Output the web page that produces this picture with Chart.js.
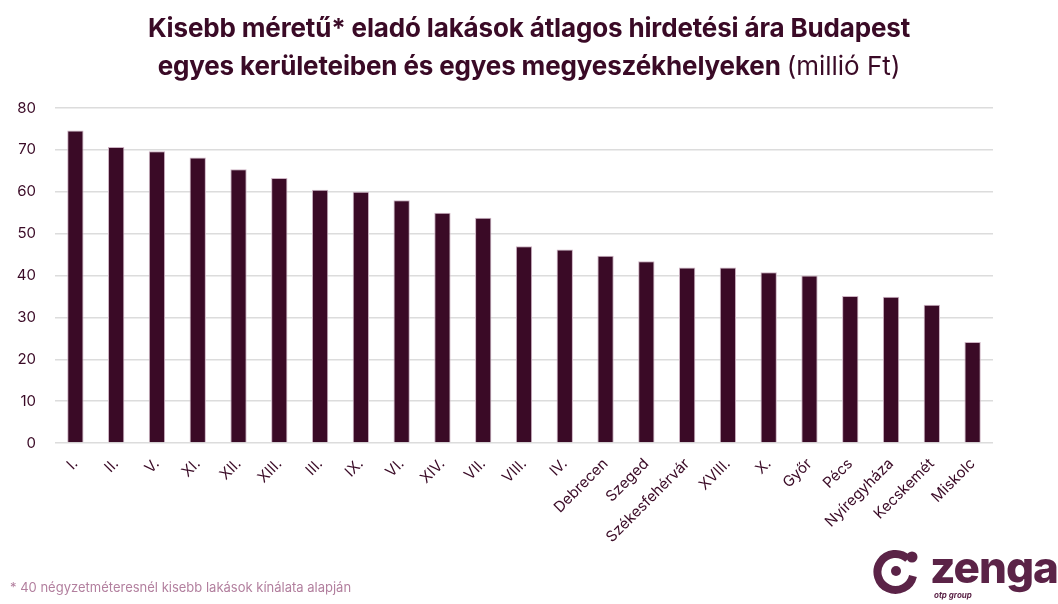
<!DOCTYPE html>
<html lang="hu">
<head>
<meta charset="utf-8">
<script src="https://cdn.jsdelivr.net/npm/chart.js@4"></script>
<style>
  html, body { margin: 0; padding: 0; background: #fff; }
  body { width: 1058px; height: 604px; position: relative; overflow: hidden; font-family: Inter, "Noto Sans", sans-serif; }
  #title { position: absolute; top: 9px; left: 0; width: 1058px; text-align: center; color: #3a0a26; font-size: 26px; line-height: 38px; font-weight: 700; letter-spacing: -0.15px; }
  #title .unit { font-weight: 400; letter-spacing: 0; }
  #chartWrap { position: absolute; left: 0; top: 0; width: 1058px; height: 604px; }
  #note { position: absolute; left: 10px; top: 579px; font-size: 13px; color: #b27f9e; }
  #logo { position: absolute; left: 872px; top: 545px; width: 186px; height: 59px; }
</style>
</head>
<body>
<div id="chartWrap"><canvas id="chart"></canvas></div>
<div id="title">Kisebb méretű* eladó lakások átlagos hirdetési ára Budapest<br>egyes kerületeiben és egyes megyeszékhelyeken <span class="unit">(millió Ft)</span></div>
<div id="note">* 40 négyzetméteresnél kisebb lakások kínálata alapján</div>
<svg id="logo" viewBox="0 0 186 59">
  <path d="M 36 14 A 18 18 0 1 0 41 31" fill="none" stroke="#5b2347" stroke-width="8" stroke-linecap="butt"/>
  <circle cx="24" cy="26" r="5" fill="#5b2347"/>
  <circle cx="40" cy="12" r="5.5" fill="#5b2347"/>
  <text x="58" y="38" font-family="Inter, sans-serif" font-weight="800" font-size="44" fill="#5b2347" letter-spacing="-1">zenga</text>
  <text x="62" y="53" font-family="Inter, sans-serif" font-style="italic" font-weight="700" font-size="8" fill="#5b2347">otp group</text>
</svg>
<script>
const categories = ['I.', 'II.', 'V.', 'XI.', 'XII.', 'XIII.', 'III.', 'IX.', 'VI.', 'XIV.', 'VII.', 'VIII.', 'IV.',
  'Debrecen', 'Szeged', 'Székesfehérvár', 'XVIII.', 'X.', 'Győr', 'Pécs', 'Nyíregyháza', 'Kecskemét', 'Miskolc'];
const prices = [74.6, 70.7, 69.7, 68.2, 65.4, 63.3, 60.5, 60.0, 58.0, 55.0, 53.8, 47.0, 46.2,
  44.7, 43.4, 41.9, 41.9, 40.8, 40.0, 35.1, 34.9, 33.0, 24.1];
const yTicks = [0, 10, 20, 30, 40, 50, 60, 70, 80];

const textColor = '#3a0a26';
const barColor = '#3a0a26';
const gridColor = '#dcdcdc';

const ctx = document.getElementById('chart').getContext('2d');
new Chart(ctx, {
  type: 'bar',
  data: {
    labels: categories,
    datasets: [{
      data: prices,
      backgroundColor: barColor,
      borderColor: '#cdb3c3',
      borderWidth: 1,
      barPercentage: 0.4,
      categoryPercentage: 1
    }]
  },
  options: {
    responsive: true,
    maintainAspectRatio: false,
    animation: false,
    layout: { padding: { top: 108, right: 65, bottom: 0, left: 0 } },
    plugins: {
      legend: { display: false },
      tooltip: { enabled: false }
    },
    scales: {
      x: {
        grid: { display: false, drawTicks: false },
        border: { display: false },
        ticks: {
          color: textColor,
          font: { family: 'Inter', size: 15 },
          minRotation: 45,
          maxRotation: 45,
          autoSkip: false,
          padding: 12
        },
        afterFit: (scale) => { scale.height = 161; }
      },
      y: {
        min: 0,
        max: 80,
        afterBuildTicks: (scale) => { scale.ticks = yTicks.map(v => ({ value: v })); },
        grid: { color: gridColor, lineWidth: 1.5, drawTicks: false },
        border: { display: false },
        ticks: {
          color: textColor,
          font: { family: 'Inter', size: 15 },
          padding: 19
        },
        afterFit: (scale) => { scale.width = 55; }
      }
    }
  }
});
</script>
</body>
</html>
